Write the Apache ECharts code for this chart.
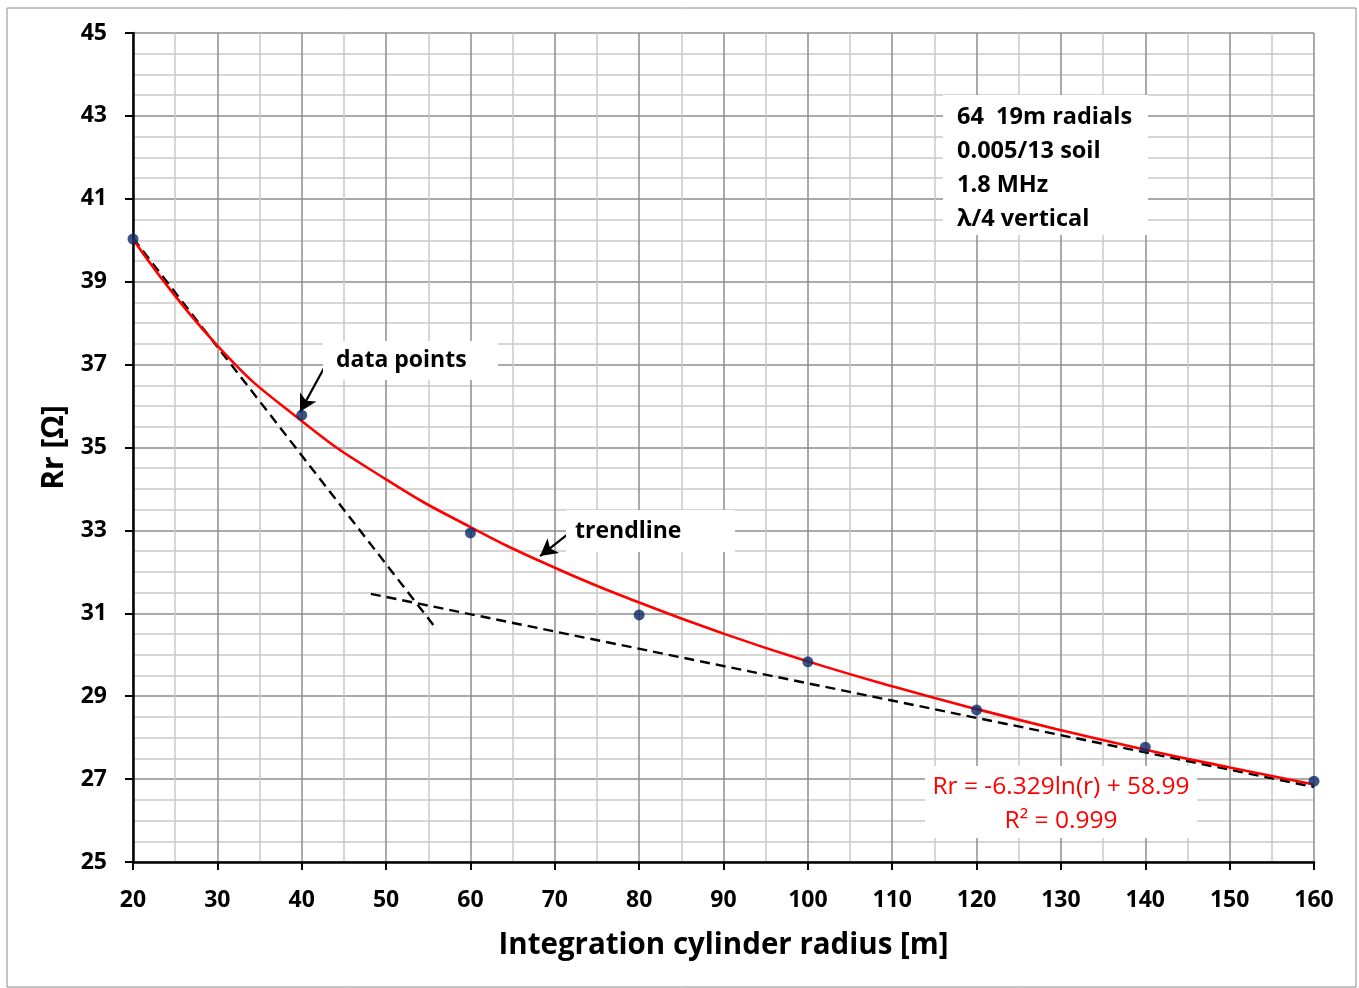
<!DOCTYPE html>
<html><head><meta charset="utf-8">
<script src="https://cdn.jsdelivr.net/npm/echarts@6/dist/echarts.min.js"></script>
<style>html,body{margin:0;padding:0;background:#fff}#c{width:1359px;height:988px}</style>
</head><body><div id="c"></div>
<script>
// ---- data ----
const radius = [20, 40, 60, 80, 100, 120, 140, 160];
const rrValues = [40.03, 35.78, 32.94, 30.96, 29.83, 28.67, 27.77, 26.95];
const trendRadius = [20, 30, 40, 50, 60, 70, 80, 90, 100, 110, 120, 130, 140, 150, 160];
const trendValues = [40.03, 37.46, 35.64, 34.23, 33.08, 32.10, 31.26, 30.51, 29.84, 29.24, 28.69, 28.18, 27.71, 27.28, 26.87];
const dashA = [[20, 40.05], [55.6, 30.72]];
const dashB = [[48.2, 31.47], [160, 26.81]];
const arrowData = [[43.95, 37.40], [39.8, 35.86]];
const arrowTrend = [[72.6, 33.08], [68.25, 32.38]];
const infoLines = ['64  19m radials', '0.005/13 soil', '1.8 MHz', 'λ/4 vertical'];
const eqLines = ['Rr = -6.329ln(r) + 58.99', 'R² = 0.999'];
const xTitle = 'Integration cylinder radius [m]';
const yTitle = 'Rr [Ω]';

const FONT = '"Open Sans"';
const chart = echarts.init(document.getElementById('c'), null, {renderer: 'canvas'});

const arrowSeries = (pts) => ({
  type: 'line', data: [], silent: true,
  markLine: {
    silent: true, symbol: ['none', 'arrow'], symbolSize: [14, 17],
    lineStyle: {color: '#000', width: 2.2, type: 'solid'}, label: {show: false},
    data: [[{coord: pts[0]}, {coord: pts[1]}]]
  }
});

chart.setOption({
  animation: false,
  grid: {left: 133, right: 45, top: 33, bottom: 126},
  xAxis: {
    type: 'value', min: 20, max: 160, interval: 10,
    name: xTitle, nameLocation: 'middle', nameGap: 69,
    nameTextStyle: {fontFamily: FONT, fontWeight: 'bold', fontSize: 29.5, color: '#000'},
    axisLine: {lineStyle: {color: '#000', width: 2.5}},
    axisTick: {show: true, length: 8, lineStyle: {color: '#000', width: 2}},
    axisLabel: {fontFamily: FONT, fontWeight: 'bold', fontSize: 23, color: '#000', margin: 27},
    splitLine: {show: true, lineStyle: {color: '#8e8e8e', width: 1.5}},
    minorTick: {show: false, splitNumber: 2},
    minorSplitLine: {show: true, lineStyle: {color: '#c9c9c9', width: 1.5}}
  },
  yAxis: {
    type: 'value', min: 25, max: 45, interval: 2,
    name: yTitle, nameLocation: 'middle', nameGap: 61,
    nameTextStyle: {fontFamily: FONT, fontWeight: 'bold', fontSize: 30, color: '#000'},
    axisLine: {show: true, lineStyle: {color: '#000', width: 2.5}},
    axisTick: {show: true, length: 8, lineStyle: {color: '#000', width: 2}},
    axisLabel: {fontFamily: FONT, fontWeight: 'bold', fontSize: 23, color: '#000', margin: 26},
    splitLine: {show: true, lineStyle: {color: '#8e8e8e', width: 1.5}},
    minorTick: {show: false, splitNumber: 4},
    minorSplitLine: {show: true, lineStyle: {color: '#c9c9c9', width: 1.5}}
  },
  series: [
    {type: 'line', data: dashA, symbol: 'none', silent: true,
     lineStyle: {color: '#000', width: 2.4, type: [10, 6]}},
    {type: 'line', data: dashB, symbol: 'none', silent: true,
     lineStyle: {color: '#000', width: 2.4, type: [10, 6]}},
    {type: 'line', data: trendRadius.map((r, i) => [r, trendValues[i]]), symbol: 'none', smooth: true,
     lineStyle: {color: '#ff0000', width: 2.6}},
    {type: 'scatter', data: radius.map((r, i) => [r, rrValues[i]]), symbol: 'circle', symbolSize: 11,
     itemStyle: {color: '#0b2a66'}, z: 5},
    arrowSeries(arrowData),
    arrowSeries(arrowTrend)
  ],
  graphic: [
    {type: 'rect', z: -10, shape: {x: 7, y: 8, width: 1349, height: 979},
     style: {fill: 'none', stroke: '#8a8a8a', lineWidth: 1}},
    {type: 'rect', z: 10, shape: {x: 943, y: 95, width: 205, height: 140}, style: {fill: '#fff'}},
    {type: 'text', z: 11, left: 957, top: 100,
     style: {text: infoLines.join('\n'), fontFamily: FONT, fontWeight: 'bold', fontSize: 23.5, lineHeight: 34, fill: '#000'}},
    {type: 'rect', z: 10, shape: {x: 323, y: 341, width: 175, height: 39}, style: {fill: '#fff'}},
    {type: 'text', z: 11, left: 336, top: 349,
     style: {text: 'data points', fontFamily: FONT, fontWeight: 'bold', fontSize: 23, fill: '#000'}},
    {type: 'rect', z: 10, shape: {x: 566, y: 510, width: 169, height: 42}, style: {fill: '#fff'}},
    {type: 'text', z: 11, left: 575, top: 520,
     style: {text: 'trendline', fontFamily: FONT, fontWeight: 'bold', fontSize: 23, fill: '#000'}},
    {type: 'rect', z: 10, shape: {x: 925, y: 766, width: 272, height: 72}, style: {fill: '#fff'}},
    {type: 'text', z: 11, x: 1061, y: 770,
     style: {text: eqLines.join('\n'), align: 'center', fontFamily: FONT, fontSize: 24.5, lineHeight: 34, fill: '#ff0000'}}
  ]
});
</script>
</body></html>
